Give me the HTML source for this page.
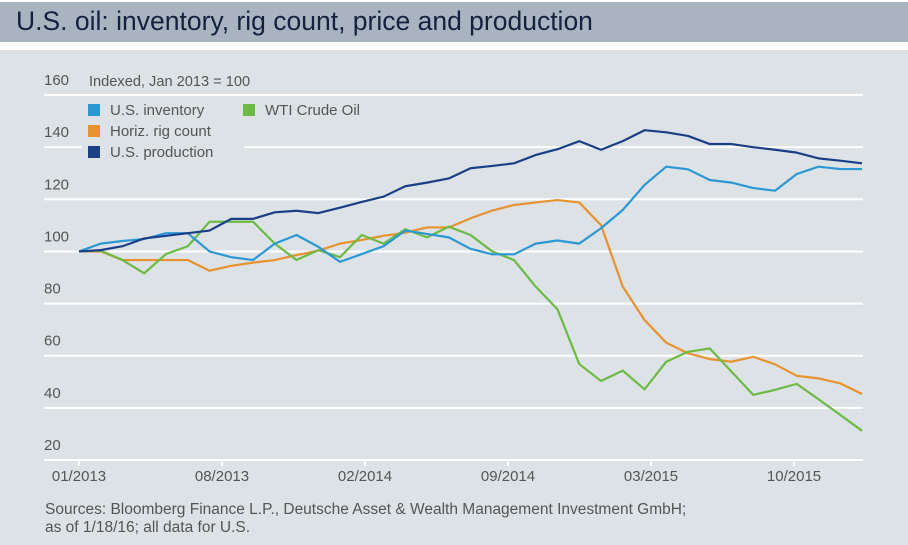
<!DOCTYPE html>
<html><head><meta charset="utf-8">
<style>
html,body{margin:0;padding:0;background:#fff;}
body{width:908px;height:545px;position:relative;overflow:hidden;font-family:"Liberation Sans",sans-serif;}
#title-band{position:absolute;left:0;top:2px;width:908px;height:40px;background:#a9b4c0;}
#title-band span{position:absolute;left:16px;top:4px;font-size:26.5px;color:#14223f;}
#panel{position:absolute;left:0;top:50px;width:908px;height:495px;background:#dce2e6;}
svg{position:absolute;left:0;top:0;}
</style></head>
<body>
<div id="title-band"><span>U.S. oil: inventory, rig count, price and production</span></div>
<div id="panel"></div>
<svg id="chart" width="908" height="545" font-family="Liberation Sans, sans-serif"></svg>
<script>
const yTicks = [20,40,60,80,100,120,140,160];
const xTickLabels = ["01/2013","08/2013","02/2014","09/2014","03/2015","10/2015"];
const xTickIndex = [0,6.575,13.15,19.725,26.3,32.875];
const inventory = [100,103,104,104.8,107,107,100,97.8,96.7,103,106.3,101.8,96,99,102,108,106.7,105.4,101,98.9,98.9,103,104.2,103,108.9,115.9,125.5,132.5,131.5,127.4,126.4,124.3,123.3,129.7,132.5,131.6,131.6];
const rigCount = [100,100,96.7,96.7,96.7,96.7,92.6,94.5,95.7,96.7,98.6,100.3,103,104.4,106,107.2,109.2,109.2,112.7,115.7,117.8,118.8,119.7,118.8,110.1,86.5,73.7,65,60.9,58.7,57.7,59.6,56.7,52.3,51.3,49.4,45.3];
const production = [100,100.5,102,105,106,107,108,112.5,112.5,115,115.6,114.7,116.8,119,121,125,126.4,128,131.9,132.8,133.8,137,139.2,142.3,139,142.3,146.5,145.7,144.3,141.2,141.2,140,139,137.9,135.7,134.8,133.8];
const wti = [100,100.3,96.7,91.6,99,102,111.4,111.4,111.4,103,96.7,100.5,97.8,106.3,103,108.5,105.4,109.5,106.3,100,96.7,86.5,77.8,56.8,50.3,54.3,47.1,57.7,61.5,62.8,53.9,45,46.9,49.2,43.3,37.3,31.2];

const svg = document.getElementById('chart');
const NS = 'http://www.w3.org/2000/svg';
const X0 = 79, DX = 21.75, Y20 = 460, PER = 2.607;
function xs(i){ return X0 + i*DX; }
function ys(v){ return Y20 - (v-20)*PER; }
function mk(tag, attrs){ const e=document.createElementNS(NS,tag); for(const k in attrs) e.setAttribute(k,attrs[k]); svg.appendChild(e); return e; }

yTicks.forEach(v=>{
  const y = ys(v);
  if (v===140){
    const g1 = mk('line',{x1:44,x2:82,y1:y,y2:y,stroke:'#fff','stroke-width':2});
    
    
    const g2 = mk('line',{x1:244,x2:863,y1:y,y2:y,stroke:'#fff','stroke-width':2});
    
    
  } else {
    const g = mk('line',{x1:44,x2:863,y1:y,y2:y,stroke:'#fff','stroke-width':2});
    
    
  }
  const t = mk('text',{x:44,y:y-10,'font-size':15,fill:'#555'});
  t.textContent = v;
  
  
});

xTickLabels.forEach((lab,k)=>{
  const x = xs(xTickIndex[k]);
  const tk = mk('line',{x1:x,x2:x,y1:Y20,y2:Y20+6,stroke:'#fff','stroke-width':2});
  
  
  const t = mk('text',{x:x,y:481,'font-size':15,fill:'#555','text-anchor':'middle'});
  t.textContent = lab;
  
  
});

function line(data,color,name){
  const p = mk('polyline',{points:data.map((v,i)=>xs(i)+','+ys(v)).join(' '),fill:'none',stroke:color,'stroke-width':2.2,'stroke-linejoin':'round'});
  
  
}
line(rigCount,'#e8922f','rig-count-line');
line(wti,'#6dba45','wti-line');
line(inventory,'#2b98d4','inventory-line');
line(production,'#1b3f86','production-line');

const st = mk('text',{x:89,y:86,'font-size':14.6,fill:'#555'});
st.textContent = 'Indexed, Jan 2013 = 100';



const legend = [['U.S. inventory','#2b98d4',88,110],['Horiz. rig count','#e8922f',88,131],['U.S. production','#1b3f86',88,152],['WTI Crude Oil','#6dba45',243,110]];
legend.forEach(([lab,c,x,y])=>{
  const r = mk('rect',{x:x,y:y-6,width:12,height:12,fill:c});
  
  
  const t = mk('text',{x:x+22,y:y+5,'font-size':15,fill:'#555'});
  t.textContent = lab;
  
  
});

const f1 = mk('text',{x:45,y:514,'font-size':15.5,fill:'#555'});
f1.textContent = 'Sources: Bloomberg Finance L.P., Deutsche Asset & Wealth Management Investment GmbH;';


const f2 = mk('text',{x:45,y:532,'font-size':15.5,fill:'#555'});
f2.textContent = 'as of 1/18/16; all data for U.S.';


</script>
</body></html>
